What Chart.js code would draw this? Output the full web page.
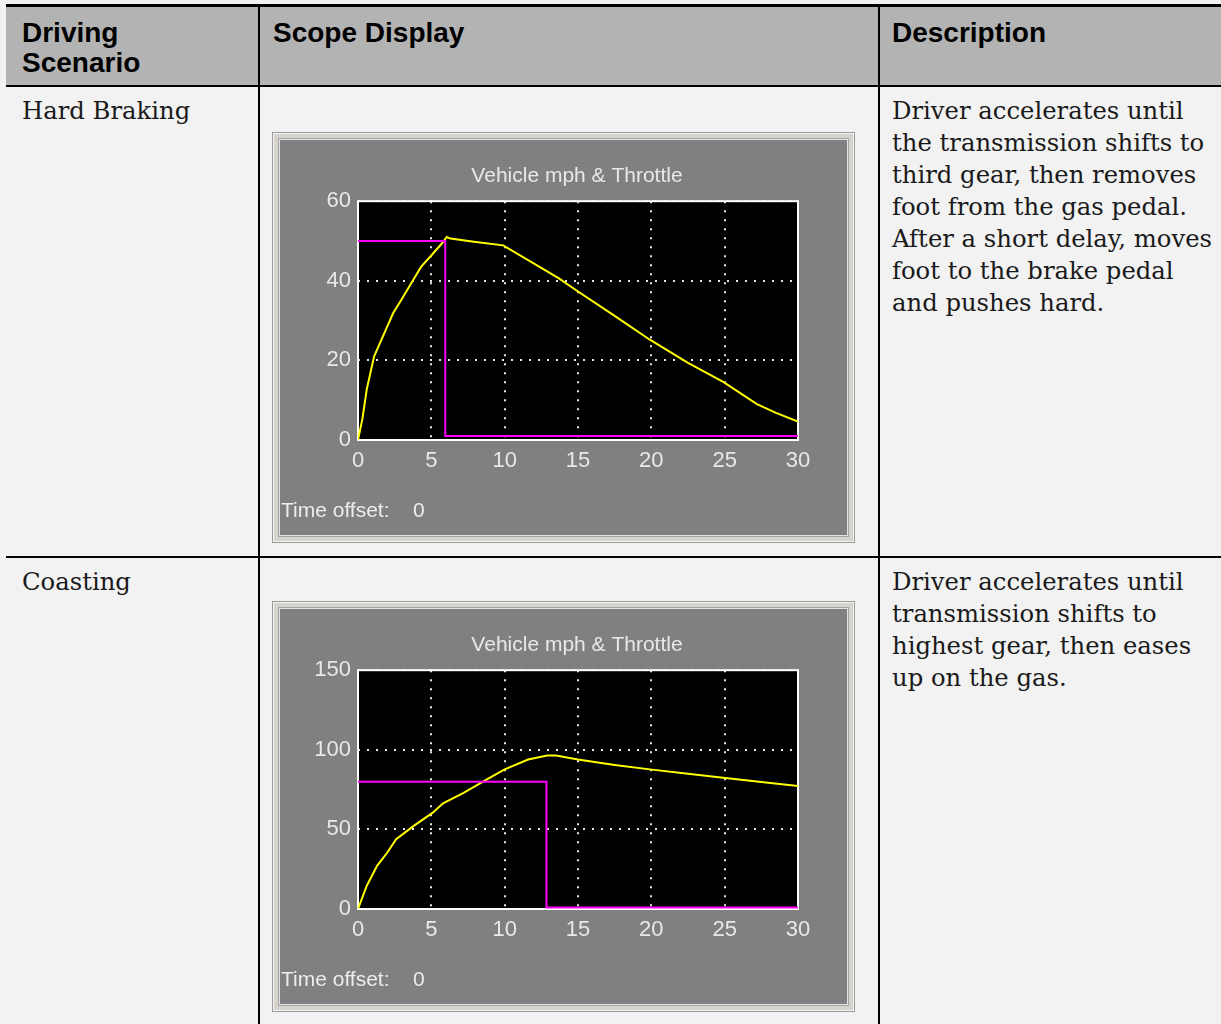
<!DOCTYPE html>
<html>
<head>
<meta charset="utf-8">
<script src="https://cdn.jsdelivr.net/npm/chart.js@4.4.1/dist/chart.umd.min.js"></script>
<style>
  html, body { margin: 0; padding: 0; }
  body { width: 1221px; height: 1024px; background: #f2f2f2; position: relative; overflow: hidden; }
  .hdr { position: absolute; left: 6px; top: 4px; width: 1215px; height: 83px; box-sizing: border-box;
         background: #b3b3b3; border-top: 3px solid #000; border-bottom: 2px solid #000; }
  .vline { position: absolute; top: 4px; width: 2px; height: 1020px; background: #000; }
  .hline { position: absolute; left: 6px; width: 1215px; height: 2px; background: #000; }
  .h { position: absolute; top: 18px; font-family: 'Liberation Sans', Arial, sans-serif; font-weight: bold;
       font-size: 28px; line-height: 30px; color: #000; white-space: nowrap; }
  .t { position: absolute; font-family: 'DejaVu Serif', serif; font-size: 24.3px; line-height: 32px;
       color: #1a1a1a; white-space: nowrap; }
  .panel { position: absolute; left: 272px; width: 583px; height: 411px; background: #808080;
           box-shadow: inset 0 0 0 1px #9a9a9a, inset 0 0 0 2px #f4f4f4, inset 0 0 0 6px #d6d3cc,
                       inset 0 0 0 7px #a4a4a4, inset 0 0 0 8px #e2e2e2; }
  .panel canvas { position: absolute; left: 0; top: 0; }
  .off { position: absolute; top: 364px; font-family: 'Liberation Sans', Arial, sans-serif;
         font-size: 21px; line-height: 28px; color: #ececec; white-space: nowrap; }
</style>
</head>
<body>
<div class="hdr"></div>
<div class="vline" style="left:258px"></div>
<div class="vline" style="left:878px"></div>
<div class="hline" style="top:556px"></div>

<div class="h" style="left:22px">Driving<br>Scenario</div>
<div class="h" style="left:273px">Scope Display</div>
<div class="h" style="left:892px">Description</div>

<div class="t" style="left:22px; top:95px">Hard Braking</div>
<div class="t" style="left:892px; top:95px">Driver accelerates until<br>the transmission shifts to<br>third gear, then removes<br>foot from the gas pedal.<br>After a short delay, moves<br>foot to the brake pedal<br>and pushes hard.</div>

<div class="t" style="left:22px; top:566px">Coasting</div>
<div class="t" style="left:892px; top:566px">Driver accelerates until<br>transmission shifts to<br>highest gear, then eases<br>up on the gas.</div>

<div class="panel" style="top:132px">
  <canvas id="c1" width="583" height="411"></canvas>
  <div class="off" style="left:9px">Time offset:</div>
  <div class="off" style="left:141px">0</div>
</div>
<div class="panel" style="top:601px">
  <canvas id="c2" width="583" height="411"></canvas>
  <div class="off" style="left:9px">Time offset:</div>
  <div class="off" style="left:141px">0</div>
</div>

<script>
// ---- Data ----
const chartTitle = 'Vehicle mph & Throttle';
const xTicks = [0, 5, 10, 15, 20, 25, 30];

// Hard Braking
const hbTime  = [0, 0.3, 0.6, 1.1, 1.6, 2.4, 3.0, 3.7, 4.3, 5.1, 5.7, 6.05, 6.3, 7.9, 9.9, 11.6, 13.7, 15.0, 17.5, 19.9, 22.5, 24.9, 27.2, 28.5, 30];
const hbSpeed = [0, 5.3, 12.8, 21.0, 25.2, 31.9, 35.5, 39.8, 43.5, 46.8, 49.3, 51.0, 50.6, 49.8, 48.9, 45.2, 40.6, 37.3, 31.2, 25.2, 19.4, 14.6, 9.0, 6.8, 4.6];
const hbThrottleTime = [0, 5.95, 5.95, 30];
const hbThrottle     = [50, 50, 1, 1];
const hbYTicks = [0, 20, 40, 60];

// Coasting
const coTime  = [0, 0.6, 1.3, 2.0, 2.6, 3.8, 5.1, 5.8, 7.2, 8.7, 10.0, 11.6, 12.9, 13.5, 15.0, 17.5, 19.9, 22.5, 24.9, 27.5, 30];
const coSpeed = [0, 14.6, 27.1, 35.5, 43.8, 52.2, 60.5, 66.4, 73.0, 81.0, 87.7, 93.9, 96.4, 96.4, 93.9, 90.5, 87.7, 85.0, 82.4, 79.8, 77.2];
const coThrottleTime = [0, 12.85, 12.85, 30];
const coThrottle     = [80, 80, 1, 1];
const coYTicks = [0, 50, 100, 150];

// ---- Rendering ----
const SANS = "'Liberation Sans', Arial, sans-serif";
const TXT = '#e8e8e8';

const scopePlugin = {
  id: 'scope',
  beforeDraw(chart) {
    const { ctx, chartArea: a } = chart;
    ctx.save();
    ctx.fillStyle = '#000';
    ctx.fillRect(a.left, a.top, a.right - a.left, a.bottom - a.top);
    ctx.restore();
  },
  beforeDatasetsDraw(chart) {
    const { ctx, chartArea: a } = chart;
    ctx.save();
    ctx.strokeStyle = '#ffffff';
    ctx.lineWidth = 2;
    ctx.strokeRect(a.left, a.top, a.right - a.left, a.bottom - a.top);
    ctx.restore();
  }
};

function pts(xs, ys) { return xs.map((x, i) => ({ x: x, y: ys[i] })); }

function makeScope(id, time, speed, thrTime, thr, yTicks) {
  const yMax = yTicks[yTicks.length - 1];
  const yStep = yTicks[1] - yTicks[0];
  return new Chart(document.getElementById(id), {
    type: 'line',
    data: {
      datasets: [
        { label: 'Throttle', data: pts(thrTime, thr), borderColor: '#ff00ff', borderWidth: 2,
          pointRadius: 0, tension: 0, fill: false },
        { label: 'Vehicle mph', data: pts(time, speed), borderColor: '#ffff00', borderWidth: 2,
          pointRadius: 0, tension: 0, fill: false }
      ]
    },
    options: {
      responsive: false,
      animation: false,
      devicePixelRatio: 1,
      layout: { padding: { left: 27, right: 0, top: 0, bottom: 0 } },
      plugins: {
        legend: { display: false },
        tooltip: { enabled: false },
        title: {
          display: true, text: chartTitle, color: TXT, align: 'center',
          font: { family: SANS, size: 21, weight: 'normal', lineHeight: 1.2 },
          padding: { top: 32, bottom: 12 }
        }
      },
      scales: {
        x: {
          type: 'linear', min: xTicks[0], max: xTicks[xTicks.length - 1],
          afterFit(s) { s.height = 103; },
          ticks: { stepSize: xTicks[1] - xTicks[0], color: TXT, font: { family: SANS, size: 22 },
                   padding: 8, maxRotation: 0, autoSkip: false },
          grid: { color: '#e6e6e6', lineWidth: 2, drawTicks: false },
          border: { display: false, dash: [2, 7] }
        },
        y: {
          min: 0, max: yMax,
          afterFit(s) { s.width = 59; },
          ticks: { stepSize: yStep, color: TXT, font: { family: SANS, size: 22 }, padding: 7 },
          grid: { color: '#e6e6e6', lineWidth: 2, drawTicks: false },
          border: { display: false, dash: [2, 7] }
        },
        yRight: {
          position: 'right', min: 0, max: 1,
          afterFit(s) { s.width = 57; },
          ticks: { display: false },
          grid: { display: false, drawOnChartArea: false },
          border: { display: false }
        }
      }
    },
    plugins: [scopePlugin]
  });
}

makeScope('c1', hbTime, hbSpeed, hbThrottleTime, hbThrottle, hbYTicks);
makeScope('c2', coTime, coSpeed, coThrottleTime, coThrottle, coYTicks);
</script>
</body>
</html>
